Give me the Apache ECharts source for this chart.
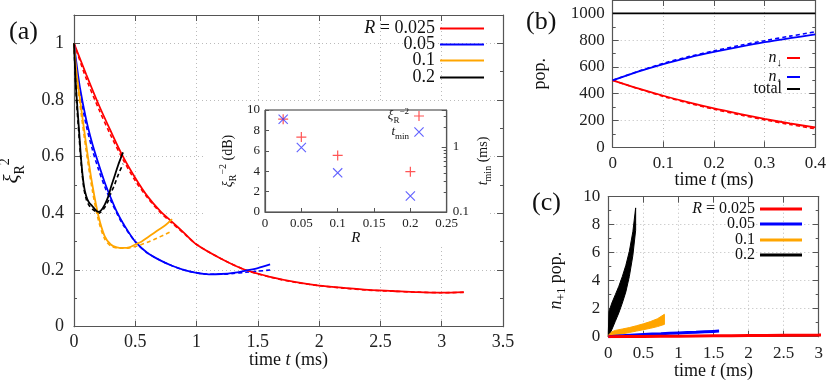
<!DOCTYPE html>
<html>
<head>
<meta charset="utf-8">
<script src="https://cdn.jsdelivr.net/npm/echarts@6/dist/echarts.min.js"></script>
<style>
html, body { margin: 0; padding: 0; background: #fff; }
#chart { width: 830px; height: 380px; }
</style>
</head>
<body>
<div id="chart"></div>
<script>
// panel (a): xi_R^2 against time, experiment (solid) and theory (dashed)
var redT = [0, 0.1, 0.2, 0.3, 0.4, 0.5, 0.6, 0.7, 0.8, 0.9, 1.0, 1.2, 1.4, 1.6, 1.8, 2.0, 2.2, 2.4, 2.6, 2.8, 3.0, 3.18];
var redXi = [1.0, 0.89, 0.785, 0.69, 0.60, 0.525, 0.46, 0.41, 0.37, 0.33, 0.29, 0.24, 0.2, 0.176, 0.158, 0.145, 0.137, 0.13, 0.126, 0.122, 0.12, 0.122];
var redXiTh = [1.0, 0.875, 0.77, 0.675, 0.59, 0.515, 0.455, 0.405, 0.365, 0.328, 0.29, 0.24, 0.2, 0.175, 0.157, 0.145, 0.136, 0.129, 0.125, 0.122, 0.12, 0.121];

var blueT = [0, 0.02, 0.05, 0.1, 0.15, 0.2, 0.25, 0.3, 0.35, 0.4, 0.5, 0.6, 0.7, 0.8, 0.9, 1.0, 1.1, 1.2, 1.3, 1.4, 1.5, 1.6];
var blueXi = [1.0, 0.93, 0.84, 0.73, 0.645, 0.575, 0.51, 0.455, 0.405, 0.365, 0.30, 0.26, 0.235, 0.215, 0.2, 0.19, 0.185, 0.186, 0.19, 0.198, 0.207, 0.22];
var blueXiTh = [1.0, 0.91, 0.82, 0.71, 0.625, 0.555, 0.495, 0.445, 0.4, 0.36, 0.3, 0.26, 0.235, 0.215, 0.2, 0.19, 0.185, 0.185, 0.188, 0.192, 0.196, 0.2];

var orangeT = [0, 0.02, 0.05, 0.1, 0.15, 0.2, 0.25, 0.3, 0.35, 0.4, 0.45, 0.5, 0.55, 0.6, 0.65, 0.7, 0.75, 0.8];
var orangeXi = [1.0, 0.9, 0.8, 0.64, 0.5, 0.39, 0.32, 0.29, 0.28, 0.278, 0.28, 0.29, 0.3, 0.315, 0.33, 0.345, 0.36, 0.38];
var orangeXiTh = [1.0, 0.89, 0.78, 0.62, 0.48, 0.375, 0.31, 0.285, 0.278, 0.277, 0.278, 0.283, 0.29, 0.298, 0.307, 0.317, 0.327, 0.338];

var blackT = [0, 0.01, 0.02, 0.04, 0.06, 0.08, 0.1, 0.12, 0.15, 0.18, 0.2, 0.22, 0.25, 0.28, 0.3, 0.33, 0.36, 0.4];
var blackXi = [1.0, 0.9, 0.82, 0.7, 0.58, 0.5, 0.46, 0.44, 0.425, 0.41, 0.405, 0.41, 0.43, 0.46, 0.49, 0.53, 0.57, 0.615];
var blackXiTh = [1.0, 0.89, 0.8, 0.68, 0.57, 0.49, 0.45, 0.43, 0.415, 0.405, 0.4, 0.405, 0.42, 0.445, 0.47, 0.5, 0.535, 0.575];

// inset: best squeezing (dB) and time of minimum
var insetR = [0.025, 0.05, 0.1, 0.2];
var insetXiDb = [9.1, 7.35, 5.55, 3.95];
var insetTmin = [2.67, 0.98, 0.40, 0.176];

// panel (b): populations
var popT = [0, 0.05, 0.1, 0.15, 0.2, 0.25, 0.3, 0.35, 0.4];
var nDown = [500, 440, 385, 335, 290, 250, 212, 178, 148];
var nDownTh = [500, 438, 380, 330, 284, 243, 205, 170, 138];
var nUp = [500, 565, 622, 670, 712, 750, 785, 815, 843];
var nUpTh = [500, 567, 627, 677, 720, 760, 796, 830, 862];
var nTotal = [1000, 1000, 1000, 1000, 1000, 1000, 1000, 1000, 1000];

// panel (c): n_{+1} population, oscillating envelopes (low / high)
var cBlackT = [0, 0.01, 0.05, 0.1, 0.15, 0.2, 0.25, 0.3, 0.35, 0.39];
var cBlackHi = [0.3, 1.8, 2.4, 3.0, 3.6, 4.3, 5.1, 6.1, 7.5, 9.2];
var cBlackLo = [0, 0.1, 0.5, 1.1, 1.7, 2.4, 3.2, 4.3, 5.8, 7.6];
var cOrangeT = [0, 0.05, 0.1, 0.2, 0.3, 0.4, 0.5, 0.6, 0.7, 0.8];
var cOrangeHi = [0.1, 0.35, 0.45, 0.55, 0.65, 0.78, 0.92, 1.08, 1.28, 1.6];
var cOrangeLo = [0, 0.05, 0.1, 0.2, 0.3, 0.4, 0.5, 0.6, 0.72, 0.88];
var cBlueT = [0, 0.25, 0.5, 0.75, 1.0, 1.25, 1.5, 1.58];
var cBlue = [0, 0.09, 0.16, 0.21, 0.27, 0.32, 0.38, 0.4];
var cRedT = [0, 0.5, 1.0, 1.5, 2.0, 2.5, 3.0, 3.18];
var cRed = [0, 0.02, 0.04, 0.06, 0.08, 0.1, 0.12, 0.13];

var RED = '#ff0000', BLUE = '#0000ff', ORANGE = '#ffa500', BLACK = '#000000';
var SERIF = 'Liberation Serif';
var AXIS = '#555';

function zip(xs, ys) {
	return xs.map(function(x, i) {
		return [x, ys[i]];
	});
}

function merge(a, b) {
	var out = {};
	Object.keys(a).forEach(function(k) { out[k] = a[k]; });
	Object.keys(b).forEach(function(k) {
		if (b[k] && typeof b[k] === 'object' && !Array.isArray(b[k]) && out[k] && typeof out[k] === 'object' && !Array.isArray(out[k])) {
			out[k] = merge(out[k], b[k]);
		}
		else {
			out[k] = b[k];
		}
	});
	return out;
}

function rich(size) {
	var small = Math.round(size * 0.68);
	return {
		it: {fontFamily: SERIF, fontStyle: 'italic', fontWeight: 'normal', fontSize: size, color: '#111', lineHeight: Math.round(size * 1.4)},
		sub: {fontFamily: SERIF, fontWeight: 'normal', fontSize: small, color: '#111', verticalAlign: 'bottom', lineHeight: Math.round(size * 0.7)},
		sup: {fontFamily: SERIF, fontWeight: 'normal', fontSize: small, color: '#111', verticalAlign: 'top', lineHeight: Math.round(size * 0.7)}
	};
}

function textStyle(size) {
	return {fontFamily: SERIF, fontWeight: 'normal', fontSize: size, color: '#111', lineHeight: Math.round(size * 1.4), rich: rich(size)};
}

// tick labels go through a rich style so the serif face is used for sure
function tickLabels(size, margin, fn) {
	return {
		fontFamily: SERIF, fontWeight: 'normal', fontSize: size, color: '#222', margin: margin,
		rich: {v: {fontFamily: SERIF, fontWeight: 'normal', fontSize: size, color: '#222'}},
		formatter: function(v) {
			var s = fn ? fn(v) : String(v);
			return s === '' ? '' : '{v|' + s + '}';
		}
	};
}

function axisBase(extra) {
	var base = {
		type: 'value',
		axisLine: {show: true, onZero: false, lineStyle: {color: AXIS, width: 1.2}},
		axisTick: {show: true, inside: true, length: 6, lineStyle: {color: AXIS, width: 1}},
		minorTick: {show: false, length: 3, lineStyle: {color: AXIS, width: 1}},
		axisLabel: tickLabels(17, 8),
		splitLine: {show: true, lineStyle: {color: '#bbb', type: [1, 3], width: 1}},
		nameLocation: 'middle',
		nameMoveOverlap: false,
		nameTextStyle: textStyle(18)
	};
	return merge(base, extra);
}

// mirror axis, only a frame edge and ticks
function mirror(extra) {
	return axisBase(merge({axisLabel: {show: false}, splitLine: {show: false}}, extra));
}

var labelText = {
	'a0.025': '{it|R} = 0.025', 'a0.05': '0.05', 'a0.1': '0.1', 'a0.2': '0.2',
	'c0.025': '{it|R} = 0.025', 'c0.05': '0.05', 'c0.1': '0.1', 'c0.2': '0.2',
	'bDown': '{it|n}{sub|↓}', 'bUp': '{it|n}{sub|↑}', 'bTotal': 'total',
	'iXi': '{it|ξ}{sub|R}{sup|−2}', 'iT': '{it|t}{sub|min}'
};

// one legend per entry so the texts line up on the right like gnuplot keys
function oneLegend(name, right, top, width, height, size, extra) {
	return merge({
		data: [name],
		orient: 'vertical',
		right: right,
		top: top,
		align: 'right',
		padding: 0,
		icon: 'rect',
		itemWidth: width,
		itemHeight: height,
		selectedMode: false,
		formatter: function(n) { return labelText[n]; },
		textStyle: textStyle(size)
	}, extra || {});
}

var PLUS = 'path://M4.4,0H5.6V4.4H10V5.6H5.6V10H4.4V5.6H0V4.4H4.4Z';
var CROSS = 'path://M0,0.8L0.8,0L10,9.2L9.2,10Z M9.2,0L10,0.8L0.8,10L0,9.2Z';

function line(name, xi, yi, data, color, width, dashed, extra) {
	return merge({
		name: name,
		type: 'line',
		xAxisIndex: xi,
		yAxisIndex: yi,
		data: data,
		symbol: 'none',
		smooth: 0.3,
		itemStyle: {color: color},
		lineStyle: {color: color, width: width, type: dashed ? [4, 3] : 'solid'}
	}, extra || {});
}

// filled band between the low and high envelope, drawn as one polygon
function band(name, ts, lo, hi, color) {
	return {
		name: name,
		type: 'custom',
		xAxisIndex: 5,
		yAxisIndex: 6,
		itemStyle: {color: color},
		data: ts.map(function(t, i) { return [t, lo[i], hi[i]]; }),
		encode: {x: 0, y: [1, 2]},
		renderItem: function(params, api) {
			if (params.dataIndex !== 0) {
				return null;
			}
			var points = [];
			for (var i = 0; i < ts.length; i++) {
				points.push(api.coord([ts[i], hi[i]]));
			}
			for (var j = ts.length - 1; j >= 0; j--) {
				points.push(api.coord([ts[j], lo[j]]));
			}
			return {
				type: 'polygon',
				shape: {points: points},
				style: {fill: color, stroke: color, lineWidth: 1}
			};
		}
	};
}

var logLabel = function(v) {
	if (Math.abs(v - 1) < 1e-6) return '1';
	if (Math.abs(v - 0.1) < 1e-6) return '0.1';
	return '';
};

var chart = echarts.init(document.getElementById('chart'));

var option = {
	animation: false,
	backgroundColor: '#fff',
	textStyle: {fontFamily: SERIF},
	title: [
		{text: '(a)', left: 9, top: 19, padding: 0, textStyle: {fontFamily: SERIF, fontSize: 26, fontWeight: 'normal', color: '#111'}},
		{text: '(b)', left: 526, top: 9, padding: 0, textStyle: {fontFamily: SERIF, fontSize: 26, fontWeight: 'normal', color: '#111'}},
		{text: '(c)', left: 532, top: 190, padding: 0, textStyle: {fontFamily: SERIF, fontSize: 26, fontWeight: 'normal', color: '#111'}}
	],
	graphic: [
		// white box behind the inset, hides the main grid lines
		{type: 'rect', z: 1, shape: {x: 203, y: 102, width: 284, height: 144}, style: {fill: '#fff'}}
	],
	grid: [
		{left: 74, top: 15, width: 429, height: 311.7, outerBoundsMode: 'none'},
		{left: 265, top: 110, width: 181.7, height: 102, outerBoundsMode: 'none', show: true, z: 3, borderColor: '#333', borderWidth: 1, backgroundColor: '#fff'},
		{left: 612.7, top: 0, width: 202.6, height: 147.3, outerBoundsMode: 'none'},
		{left: 608.3, top: 196.7, width: 210.4, height: 140, outerBoundsMode: 'none'}
	],
	xAxis: [
		axisBase({gridIndex: 0, min: 0, max: 3.5, interval: 0.5, axisLabel: tickLabels(18, 7), name: 'time {it|t} (ms)', nameGap: 21}),
		mirror({gridIndex: 0, position: 'top', min: 0, max: 3.5, interval: 0.5}),
		axisBase({gridIndex: 1, z: 3, min: 0, max: 0.25, interval: 0.05, splitLine: {show: false},
			axisTick: {length: 4}, axisLabel: tickLabels(13, 5),
			name: '{it|R}', nameGap: 16, nameTextStyle: textStyle(15)}),
		axisBase({gridIndex: 2, min: 0, max: 0.4, interval: 0.1, name: 'time {it|t} (ms)', nameGap: 20}),
		mirror({gridIndex: 2, position: 'top', min: 0, max: 0.4, interval: 0.1}),
		axisBase({gridIndex: 3, min: 0, max: 3, interval: 0.5, name: 'time {it|t} (ms)', nameGap: 22}),
		mirror({gridIndex: 3, position: 'top', min: 0, max: 3, interval: 0.5})
	],
	yAxis: [
		axisBase({gridIndex: 0, min: 0, max: 1.1, interval: 0.2, minorTick: {show: true, splitNumber: 2},
			axisLabel: merge(tickLabels(18, 10), {showMaxLabel: false}),
			name: '{it|ξ}{sub|R}{sup|2}', nameGap: 47, nameRotate: 90, nameTextStyle: textStyle(21)}),
		mirror({gridIndex: 0, position: 'right', min: 0, max: 1.1, interval: 0.2, minorTick: {show: true, splitNumber: 2}}),
		axisBase({gridIndex: 1, z: 3, min: 0, max: 10, interval: 2, splitLine: {show: false},
			axisTick: {length: 4}, axisLabel: tickLabels(13, 5),
			name: '{it|ξ}{sub|R}{sup|−2} (dB)', nameGap: 27, nameRotate: 90, nameTextStyle: textStyle(14)}),
		axisBase({gridIndex: 1, z: 3, type: 'log', logBase: 10, position: 'right', min: 0.1, max: 3.7, splitLine: {show: false},
			axisTick: {length: 5}, minorTick: {show: true, splitNumber: 9, length: 3},
			axisLabel: tickLabels(13, 6, logLabel),
			name: '{it|t}{sub|min} (ms)', nameGap: 27, nameRotate: 90, nameTextStyle: textStyle(14)}),
		axisBase({gridIndex: 2, min: 0, max: 1100, interval: 200, minorTick: {show: true, splitNumber: 2},
			axisLabel: merge(tickLabels(17, 8), {showMaxLabel: false}),
			name: 'pop.', nameGap: 60, nameRotate: 90}),
		mirror({gridIndex: 2, position: 'right', min: 0, max: 1100, interval: 200, minorTick: {show: true, splitNumber: 2}}),
		axisBase({gridIndex: 3, min: 0, max: 10, interval: 2, minorTick: {show: true, splitNumber: 2},
			name: '{it|n}{sub|+1} pop.', nameGap: 40, nameRotate: 90,
			nameTextStyle: {padding: [0, 28, 0, 0]}}),
		mirror({gridIndex: 3, position: 'right', min: 0, max: 10, interval: 2, minorTick: {show: true, splitNumber: 2}})
	],
	legend: [
		oneLegend('a0.025', 346, 16, 44, 2, 18),
		oneLegend('a0.05', 346, 32, 44, 2, 18),
		oneLegend('a0.1', 346, 48, 44, 2, 18),
		oneLegend('a0.2', 346, 65, 44, 2, 18),
		oneLegend('iXi', 406, 107, 10, 10, 13, {icon: null, z: 5}),
		oneLegend('iT', 406, 123, 10, 10, 13, {icon: null, z: 5}),
		oneLegend('bDown', 30, 47, 13, 2, 16),
		oneLegend('bUp', 30, 66, 13, 2, 16),
		oneLegend('bTotal', 30, 78, 13, 2, 16),
		oneLegend('c0.025', 28, 198, 42, 3, 16),
		oneLegend('c0.05', 28, 213, 42, 3, 16),
		oneLegend('c0.1', 28, 229, 42, 3, 16),
		oneLegend('c0.2', 28, 244, 42, 3, 16)
	],
	series: [
		// (a) theory dashed, then experiment solid
		line('a0.025 th', 0, 0, zip(redT, redXiTh), RED, 1.6, true),
		line('a0.05 th', 0, 0, zip(blueT, blueXiTh), BLUE, 1.6, true),
		line('a0.1 th', 0, 0, zip(orangeT, orangeXiTh), ORANGE, 1.6, true),
		line('a0.2 th', 0, 0, zip(blackT, blackXiTh), BLACK, 1.6, true),
		line('a0.025', 0, 0, zip(redT, redXi), RED, 1.8, false),
		line('a0.05', 0, 0, zip(blueT, blueXi), BLUE, 1.8, false),
		line('a0.1', 0, 0, zip(orangeT, orangeXi), ORANGE, 1.8, false),
		line('a0.2', 0, 0, zip(blackT, blackXi), BLACK, 1.8, false),

		// inset
		{name: 'iXi', type: 'scatter', xAxisIndex: 2, yAxisIndex: 2, z: 5, symbol: PLUS, symbolSize: 10,
			itemStyle: {color: '#ff2a2a'}, data: zip(insetR, insetXiDb)},
		{name: 'iT', type: 'scatter', xAxisIndex: 2, yAxisIndex: 3, z: 5, symbol: CROSS, symbolSize: 10,
			itemStyle: {color: '#3a3aff'}, data: zip(insetR, insetTmin)},

		// (b)
		line('bDown th', 3, 4, zip(popT, nDownTh), RED, 1.6, true),
		line('bUp th', 3, 4, zip(popT, nUpTh), BLUE, 1.6, true),
		line('bDown', 3, 4, zip(popT, nDown), RED, 1.8, false),
		line('bUp', 3, 4, zip(popT, nUp), BLUE, 1.8, false),
		line('bTotal', 3, 4, zip(popT, nTotal), BLACK, 1.8, false),

		// (c)
		band('c0.2', cBlackT, cBlackLo, cBlackHi, BLACK),
		band('c0.1', cOrangeT, cOrangeLo, cOrangeHi, ORANGE),
		line('c0.05', 5, 6, zip(cBlueT, cBlue), BLUE, 3, false),
		line('c0.025', 5, 6, zip(cRedT, cRed), RED, 3, false)
	]
};

chart.setOption(option);
</script>
</body>
</html>
